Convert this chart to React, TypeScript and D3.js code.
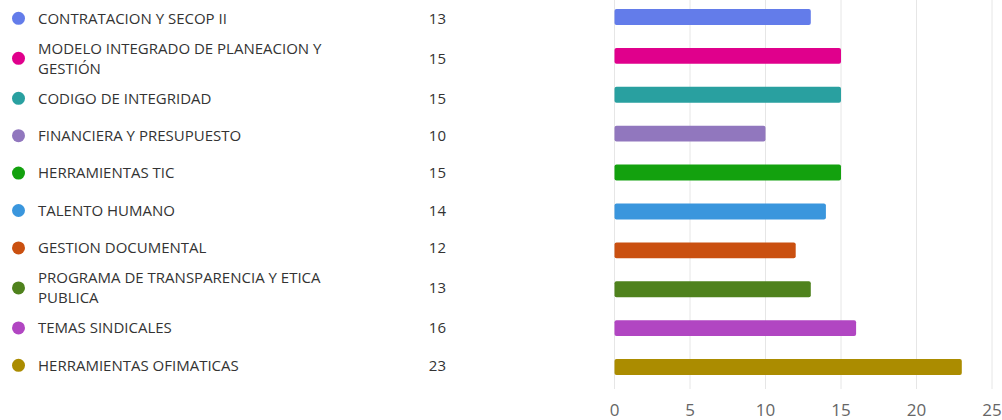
import { useEffect, useRef } from 'react'
import * as d3 from 'd3'

const categories = [
  'CONTRATACION Y SECOP II',
  'MODELO INTEGRADO DE PLANEACION Y GESTIÓN',
  'CODIGO DE INTEGRIDAD',
  'FINANCIERA Y PRESUPUESTO',
  'HERRAMIENTAS TIC',
  'TALENTO HUMANO',
  'GESTION DOCUMENTAL',
  'PROGRAMA DE TRANSPARENCIA Y ETICA PUBLICA',
  'TEMAS SINDICALES',
  'HERRAMIENTAS OFIMATICAS',
]
const values = [13, 15, 15, 10, 15, 14, 12, 13, 16, 23]
const colors = [
  '#637cea', '#e0008c', '#29a0a0', '#9177be', '#13a10e',
  '#3a96dd', '#ca5010', '#4f821d', '#b146c2', '#ab8c00',
]
const xTicks = [0, 5, 10, 15, 20, 25]

const W = 1002
const H = 420
const FONT = '"Segoe UI", "Open Sans", "Noto Sans", sans-serif'

export default function App() {
  const svgRef = useRef<SVGSVGElement>(null)

  useEffect(() => {
    if (!svgRef.current) return
    const svg = d3.select(svgRef.current)
    svg.selectAll('*').remove()

    const x = d3.scaleLinear().domain([0, 25]).range([614.5, 992])
    const y = d3.scaleBand<string>()
      .domain(categories)
      .range([-2.5, 386.5])
      .paddingInner(0.59)
      .paddingOuter(0.295)

    // grid
    svg.append('g')
      .selectAll('line')
      .data(xTicks)
      .join('line')
      .attr('x1', d => x(d))
      .attr('x2', d => x(d))
      .attr('y1', 0)
      .attr('y2', 389)
      .attr('stroke', '#e6e6e6')
      .attr('stroke-width', 1)

    // tick labels
    svg.append('g')
      .selectAll('text')
      .data(xTicks)
      .join('text')
      .attr('x', d => x(d))
      .attr('y', 416)
      .attr('text-anchor', 'middle')
      .attr('fill', '#666')
      .style('font-family', FONT)
      .style('font-size', '17px')
      .text(d => d)

    // bars
    svg.append('g')
      .selectAll('rect')
      .data(categories)
      .join('rect')
      .attr('x', x(0))
      .attr('y', d => y(d)!)
      .attr('width', (d, i) => x(values[i]) - x(0))
      .attr('height', y.bandwidth())
      .attr('rx', 2)
      .attr('fill', (d, i) => colors[i])

    // wrap legend labels to the column width
    const probe = svg.append('text')
      .style('font-family', FONT)
      .style('font-size', '15px')
    const wrapped = categories.map(label => {
      const lines: string[] = []
      let cur = ''
      for (const w of label.split(' ')) {
        const next = cur ? cur + ' ' + w : w
        probe.text(next)
        if ((probe.node() as SVGTextElement).getComputedTextLength() > 300 && cur) {
          lines.push(cur)
          cur = w
        } else cur = next
      }
      lines.push(cur)
      return lines
    })
    probe.remove()

    // legend rows stack: multi-line rows are a little taller
    const rowH = (n: number) => 37.4 + (n - 1) * 5.2
    const centers: number[] = []
    let acc = 18.3 - rowH(wrapped[0].length) / 2
    wrapped.forEach(lines => {
      const h = rowH(lines.length)
      centers.push(acc + h / 2)
      acc += h
    })

    const rows = svg.append('g')
      .selectAll('g')
      .data(categories)
      .join('g')
      .attr('transform', (d, i) => `translate(0,${centers[i]})`)

    rows.append('circle')
      .attr('cx', 18.5)
      .attr('cy', 0)
      .attr('r', 6.5)
      .attr('fill', (d, i) => colors[i])

    rows.append('text')
      .attr('x', 446)
      .attr('y', 0)
      .attr('dy', '0.35em')
      .attr('text-anchor', 'end')
      .attr('fill', '#333')
      .style('font-family', FONT)
      .style('font-size', '15px')
      .text((d, i) => values[i])

    rows.each(function (d, i) {
      const lines = wrapped[i]
      const t = d3.select(this).append('text')
        .attr('x', 38)
        .attr('fill', '#333')
        .style('font-family', FONT)
        .style('font-size', '15px')
      const lh = 20
      const top = -((lines.length - 1) * lh) / 2
      lines.forEach((l, k) => {
        t.append('tspan')
          .attr('x', 38)
          .attr('y', top + k * lh)
          .attr('dy', '0.35em')
          .text(l)
      })
    })
  }, [])

  return (
    <svg
      ref={svgRef}
      width={W}
      height={H}
      style={{ display: 'block', position: 'absolute', left: 0, top: 0, background: '#fff' }}
    />
  )
}
